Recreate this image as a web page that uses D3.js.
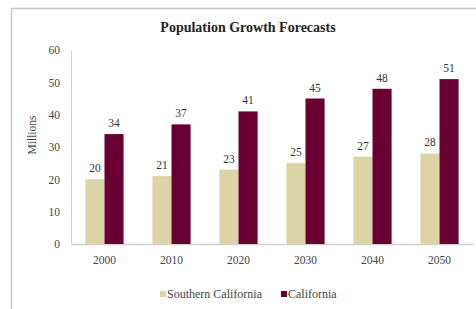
<!DOCTYPE html>
<html>
<head>
<meta charset="utf-8">
<script src="https://cdn.jsdelivr.net/npm/d3@7"></script>
<style>
  body { margin: 0; background: #fff; }
</style>
</head>
<body>
<div id="chart"></div>
<script>
// data
const years = ["2000", "2010", "2020", "2030", "2040", "2050"];
const southernCalifornia = [20, 21, 23, 25, 27, 28];
const california = [34, 37, 41, 45, 48, 51];
const seriesNames = ["Southern California", "California"];
const yTicks = [0, 10, 20, 30, 40, 50, 60];

const colors = ["#dcd3a6", "#6a0032"];
const FONT = "'Liberation Serif', 'DejaVu Serif', serif";

const W = 476, H = 309;
const margin = {top: 50, right: 3, bottom: 65, left: 71};
const width = W - margin.left - margin.right;
const height = H - margin.top - margin.bottom;

const svg = d3.select("#chart").append("svg")
    .attr("width", W)
    .attr("height", H)
    .attr("font-family", FONT);

// frame (only top and left edges are visible)
svg.append("path")
    .attr("d", `M11.5,${H} V8.5 H${W}`)
    .attr("fill", "none")
    .attr("stroke", "#c8c8c8")
    .attr("stroke-width", 1.5);

// title
svg.append("text")
    .attr("x", 248)
    .attr("y", 32)
    .attr("text-anchor", "middle")
    .attr("font-size", 14)
    .attr("font-weight", "bold")
    .attr("fill", "#222")
    .text("Population Growth Forecasts");

const g = svg.append("g")
    .attr("transform", `translate(${margin.left},${margin.top})`);

const x0 = d3.scaleBand().domain(years).range([0, width]).paddingInner(0.43).paddingOuter(0.215);
const x1 = d3.scaleBand().domain(seriesNames).range([0, x0.bandwidth()]);
const y = d3.scaleLinear().domain([0, 60]).range([height, 0]);

// y axis
const yAxis = g.append("g")
    .call(d3.axisLeft(y).tickValues(yTicks).tickSize(0).tickPadding(11))
    .attr("font-family", FONT);
yAxis.select(".domain").attr("stroke", "#d0d0d0");
yAxis.selectAll("text").attr("font-size", 11.5).attr("fill", "#444");

// x axis
const xAxis = g.append("g")
    .attr("transform", `translate(0,${height})`)
    .call(d3.axisBottom(x0).tickSize(0).tickPadding(12))
    .attr("font-family", FONT);
xAxis.select(".domain").attr("stroke", "#d0d0d0").attr("stroke-width", 1.5);
xAxis.selectAll("text").attr("font-size", 11.5).attr("fill", "#444");

// y axis title
svg.append("text")
    .attr("transform", `translate(36,135) rotate(-90)`)
    .attr("text-anchor", "middle")
    .attr("font-size", 11.5)
    .attr("fill", "#444")
    .text("Millions");

// bars
const series = [southernCalifornia, california];
series.forEach((vals, si) => {
    const grp = g.append("g");
    grp.selectAll("rect")
        .data(years)
        .join("rect")
        .attr("x", (d) => x0(d) + x1(seriesNames[si]))
        .attr("y", (d, i) => y(vals[i]))
        .attr("width", x1.bandwidth())
        .attr("height", (d, i) => height - y(vals[i]))
        .attr("fill", colors[si]);
    grp.selectAll("text")
        .data(years)
        .join("text")
        .attr("x", (d) => x0(d) + x1(seriesNames[si]) + x1.bandwidth() / 2)
        .attr("y", (d, i) => y(vals[i]) - 7)
        .attr("text-anchor", "middle")
        .attr("font-size", 11.5)
        .attr("fill", "#333")
        .text((d, i) => vals[i]);
});

// legend
const legendX = [160, 281];
const legend = svg.append("g");
seriesNames.forEach((name, i) => {
    legend.append("rect")
        .attr("x", legendX[i])
        .attr("y", 291)
        .attr("width", 6)
        .attr("height", 6)
        .attr("fill", colors[i]);
    legend.append("text")
        .attr("x", legendX[i] + 7)
        .attr("y", 298)
        .attr("font-size", 12)
        .attr("fill", "#444")
        .text(name);
});
</script>
</body>
</html>
